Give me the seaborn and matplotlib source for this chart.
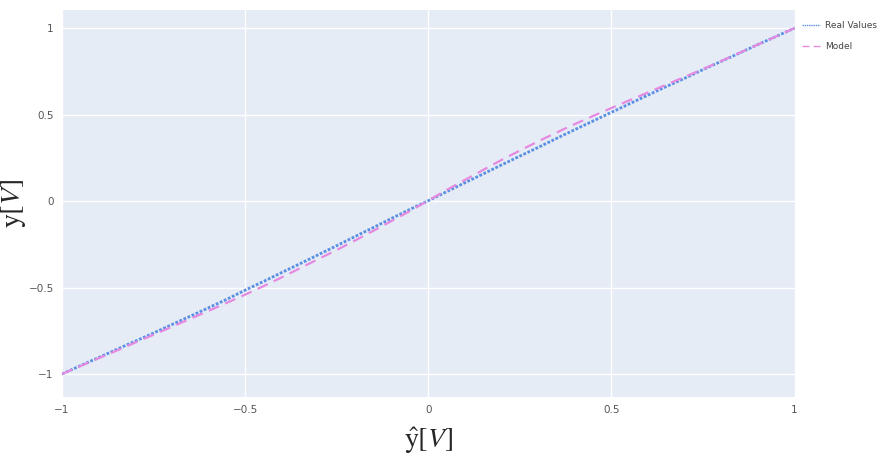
import matplotlib
matplotlib.use("Agg")
import matplotlib.pyplot as plt
import seaborn as sns
import pandas as pd

y_hat = [-1.0, -0.95, -0.9, -0.85, -0.8, -0.75, -0.7, -0.65, -0.6, -0.55, -0.5,
         -0.45, -0.4, -0.35, -0.3, -0.25, -0.2, -0.15, -0.1, -0.05, 0.0,
         0.05, 0.1, 0.15, 0.2, 0.25, 0.3, 0.35, 0.4, 0.45, 0.5,
         0.55, 0.6, 0.65, 0.7, 0.75, 0.8, 0.85, 0.9, 0.95, 1.0]
real_values = [-1.0, -0.952, -0.905, -0.857, -0.81, -0.763, -0.714, -0.666, -0.617, -0.568, -0.515,
               -0.465, -0.413, -0.362, -0.31, -0.258, -0.205, -0.153, -0.1, -0.048, 0.002,
               0.054, 0.106, 0.157, 0.209, 0.26, 0.31, 0.362, 0.413, 0.463, 0.513,
               0.563, 0.613, 0.662, 0.71, 0.76, 0.808, 0.856, 0.905, 0.952, 1.0]
model_values = [-1.0, -0.954, -0.909, -0.864, -0.818, -0.773, -0.727, -0.681, -0.635, -0.588, -0.541,
                -0.492, -0.441, -0.388, -0.335, -0.283, -0.228, -0.172, -0.115, -0.058, 0.003,
                0.064, 0.122, 0.18, 0.238, 0.292, 0.345, 0.396, 0.445, 0.492, 0.538,
                0.583, 0.628, 0.673, 0.718, 0.763, 0.81, 0.857, 0.905, 0.952, 1.0]
series_names = ["Real Values", "Model"]

sns.set_theme(style="darkgrid", rc={"axes.facecolor": "#E5ECF6", "grid.color": "white",
                                    "grid.linewidth": 1.0, "axes.edgecolor": "none"})
plt.rcParams["mathtext.fontset"] = "stix"

fig = plt.figure(figsize=(8.88, 4.59), dpi=100)
ax = fig.add_axes([0.0698, 0.135, 0.825, 0.843])

df_real = pd.DataFrame({"x": y_hat, "y": real_values})
df_model = pd.DataFrame({"x": y_hat, "y": model_values})
sns.lineplot(data=df_real, x="x", y="y", ax=ax, color="#5b8fe3", linestyle=(0, (1, 0.6)),
             linewidth=2.0, label=series_names[0])
sns.lineplot(data=df_model, x="x", y="y", ax=ax, color="#e58ae0", linestyle=(0, (5, 3)),
             linewidth=1.6, label=series_names[1])

ax.set_xlim(-1, 1)
ax.set_ylim(-1.133, 1.104)
ticks = [-1, -0.5, 0, 0.5, 1]
labels = ["\u22121", "\u22120.5", "0", "0.5", "1"]
ax.set_xticks(ticks)
ax.set_xticklabels(labels)
ax.set_yticks(ticks)
ax.set_yticklabels(labels)
ax.tick_params(axis="both", labelsize=7.5, colors="#555555", length=0, pad=6)
ax.set_xlabel(r"$\hat{\mathrm{y}}[V]$", fontsize=20)
ax.set_ylabel(r"$\mathrm{y}[V]$", fontsize=20)
ax.xaxis.set_label_coords(0.5, -0.072)
ax.yaxis.set_label_coords(-0.046, 0.5)
for s in ax.spines.values():
    s.set_visible(False)

leg = ax.legend(loc="upper left", bbox_to_anchor=(1.0, 0.99), frameon=False,
                fontsize=6.5, handlelength=2.0, handletextpad=0.6, labelspacing=1.3,
                labelcolor="#444444", borderaxespad=0.4)
for h in leg.get_lines():
    h.set_linewidth(1.0)

fig.savefig("out.png", dpi=100)
